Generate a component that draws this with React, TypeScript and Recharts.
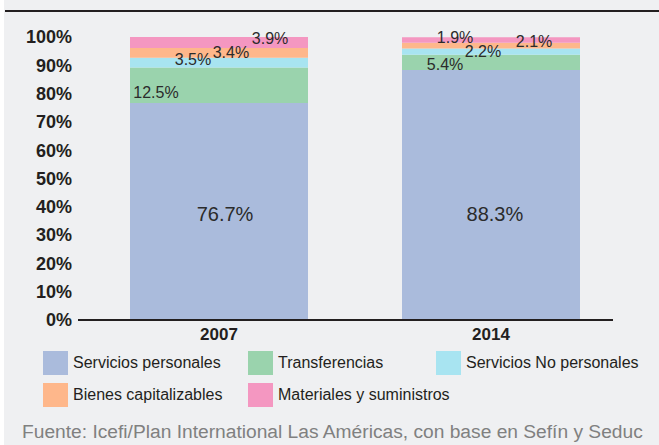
import { BarChart, Bar, XAxis, YAxis, LabelList } from 'recharts'

const years = ['2007', '2014']
const serviciosPersonales = [76.7, 88.3]
const transferencias = [12.5, 5.4]
const serviciosNoPersonales = [3.5, 2.2]
const bienesCapitalizables = [3.4, 2.1]
const materialesSuministros = [3.9, 1.9]
const yTicks = [0, 10, 20, 30, 40, 50, 60, 70, 80, 90, 100]

const data = years.map((year, i) => ({
  year,
  sp: serviciosPersonales[i],
  tr: transferencias[i],
  snp: serviciosNoPersonales[i],
  bc: bienesCapitalizables[i],
  ms: materialesSuministros[i],
}))

// label placement per series: fraction across the bar, vertical nudge (per year)
const series = [
  { key: 'sp', name: 'Servicios personales', color: '#aabbdc', size: 20, fx: [0.534, 0.522], dy: [2, 19] },
  { key: 'tr', name: 'Transferencias', color: '#9ad3ad', size: 16, fx: [0.146, 0.242], dy: [7, 1.5] },
  { key: 'snp', name: 'Servicios No personales', color: '#a8e4f1', size: 16, fx: [0.354, 0.455], dy: [-3, 0] },
  { key: 'bc', name: 'Bienes capitalizables', color: '#feb78b', size: 16, fx: [0.567, 0.742], dy: [-1, -4] },
  { key: 'ms', name: 'Materiales y suministros', color: '#f497c1', size: 16, fx: [0.787, 0.298], dy: [-4, -3] },
]

const FONT = '"Liberation Sans", Arial, sans-serif'

const makeLabel = (s: (typeof series)[number]) => (props: any) => {
  const { x, y, width, height, value, index } = props
  return (
    <text
      x={x + width * s.fx[index]}
      y={y + height / 2 + s.dy[index]}
      dy="0.36em"
      textAnchor="middle"
      fontSize={s.size}
      fontFamily={FONT}
      fill="#2b2b2b"
    >
      {value.toFixed(1)}%
    </text>
  )
}

export default function App() {
  return (
    <div style={{ position: 'absolute', left: 0, top: 0, width: 659, height: 445, background: '#fff', fontFamily: FONT }}>
      <div style={{ position: 'absolute', left: 4, top: 0, width: 655, height: 445, background: '#eff0f2' }} />
      <div style={{ position: 'absolute', left: 5, top: 10, width: 654, height: 2, background: '#231f20' }} />
      <div style={{ position: 'absolute', left: 0, top: 0 }}>
        <BarChart width={659} height={345} data={data} margin={{ top: 37, right: 46, bottom: 0, left: 8 }}>
          <XAxis
            dataKey="year"
            height={25}
            padding={{ left: 5, right: -14 }}
            axisLine={{ stroke: '#231f20', strokeWidth: 2 }}
            tickLine={false}
            tickSize={0}
            tickMargin={8}
            tick={{ fill: '#231f20', fontSize: 17, fontWeight: 'bold', fontFamily: FONT }}
          />
          <YAxis
            domain={[0, 100]}
            ticks={yTicks}
            width={70}
            axisLine={false}
            tickLine={false}
            tickSize={0}
            tickMargin={6}
            interval={0}
            tickFormatter={(v) => `${v}%`}
            tick={{ fill: '#231f20', fontSize: 18, fontWeight: 'bold', fontFamily: FONT }}
          />
          {series.map((s) => (
            <Bar key={s.key} dataKey={s.key} stackId="a" fill={s.color} barSize={178} isAnimationActive={false}>
              <LabelList dataKey={s.key} content={makeLabel(s)} />
            </Bar>
          ))}
        </BarChart>
      </div>
      {[[0, 1, 2], [3, 4]].map((row, r) => (
        <div key={r} style={{ position: 'absolute', top: 351 + r * 32, left: 43, height: 24 }}>
          {row.map((i, c) => (
            <div
              key={series[i].key}
              style={{ position: 'absolute', left: [0, 205, 393][c], top: 0, display: 'flex', alignItems: 'center', whiteSpace: 'nowrap' }}
            >
              <div style={{ width: 25, height: 24, background: series[i].color }} />
              <span style={{ marginLeft: 5, fontSize: 16, color: '#231f20' }}>{series[i].name}</span>
            </div>
          ))}
        </div>
      ))}
      <div style={{ position: 'absolute', left: 22, top: 421, fontSize: 19.2, color: '#808080', whiteSpace: 'nowrap' }}>
        Fuente: Icefi/Plan International Las Américas, con base en Sefín y Seduc
      </div>
    </div>
  )
}
